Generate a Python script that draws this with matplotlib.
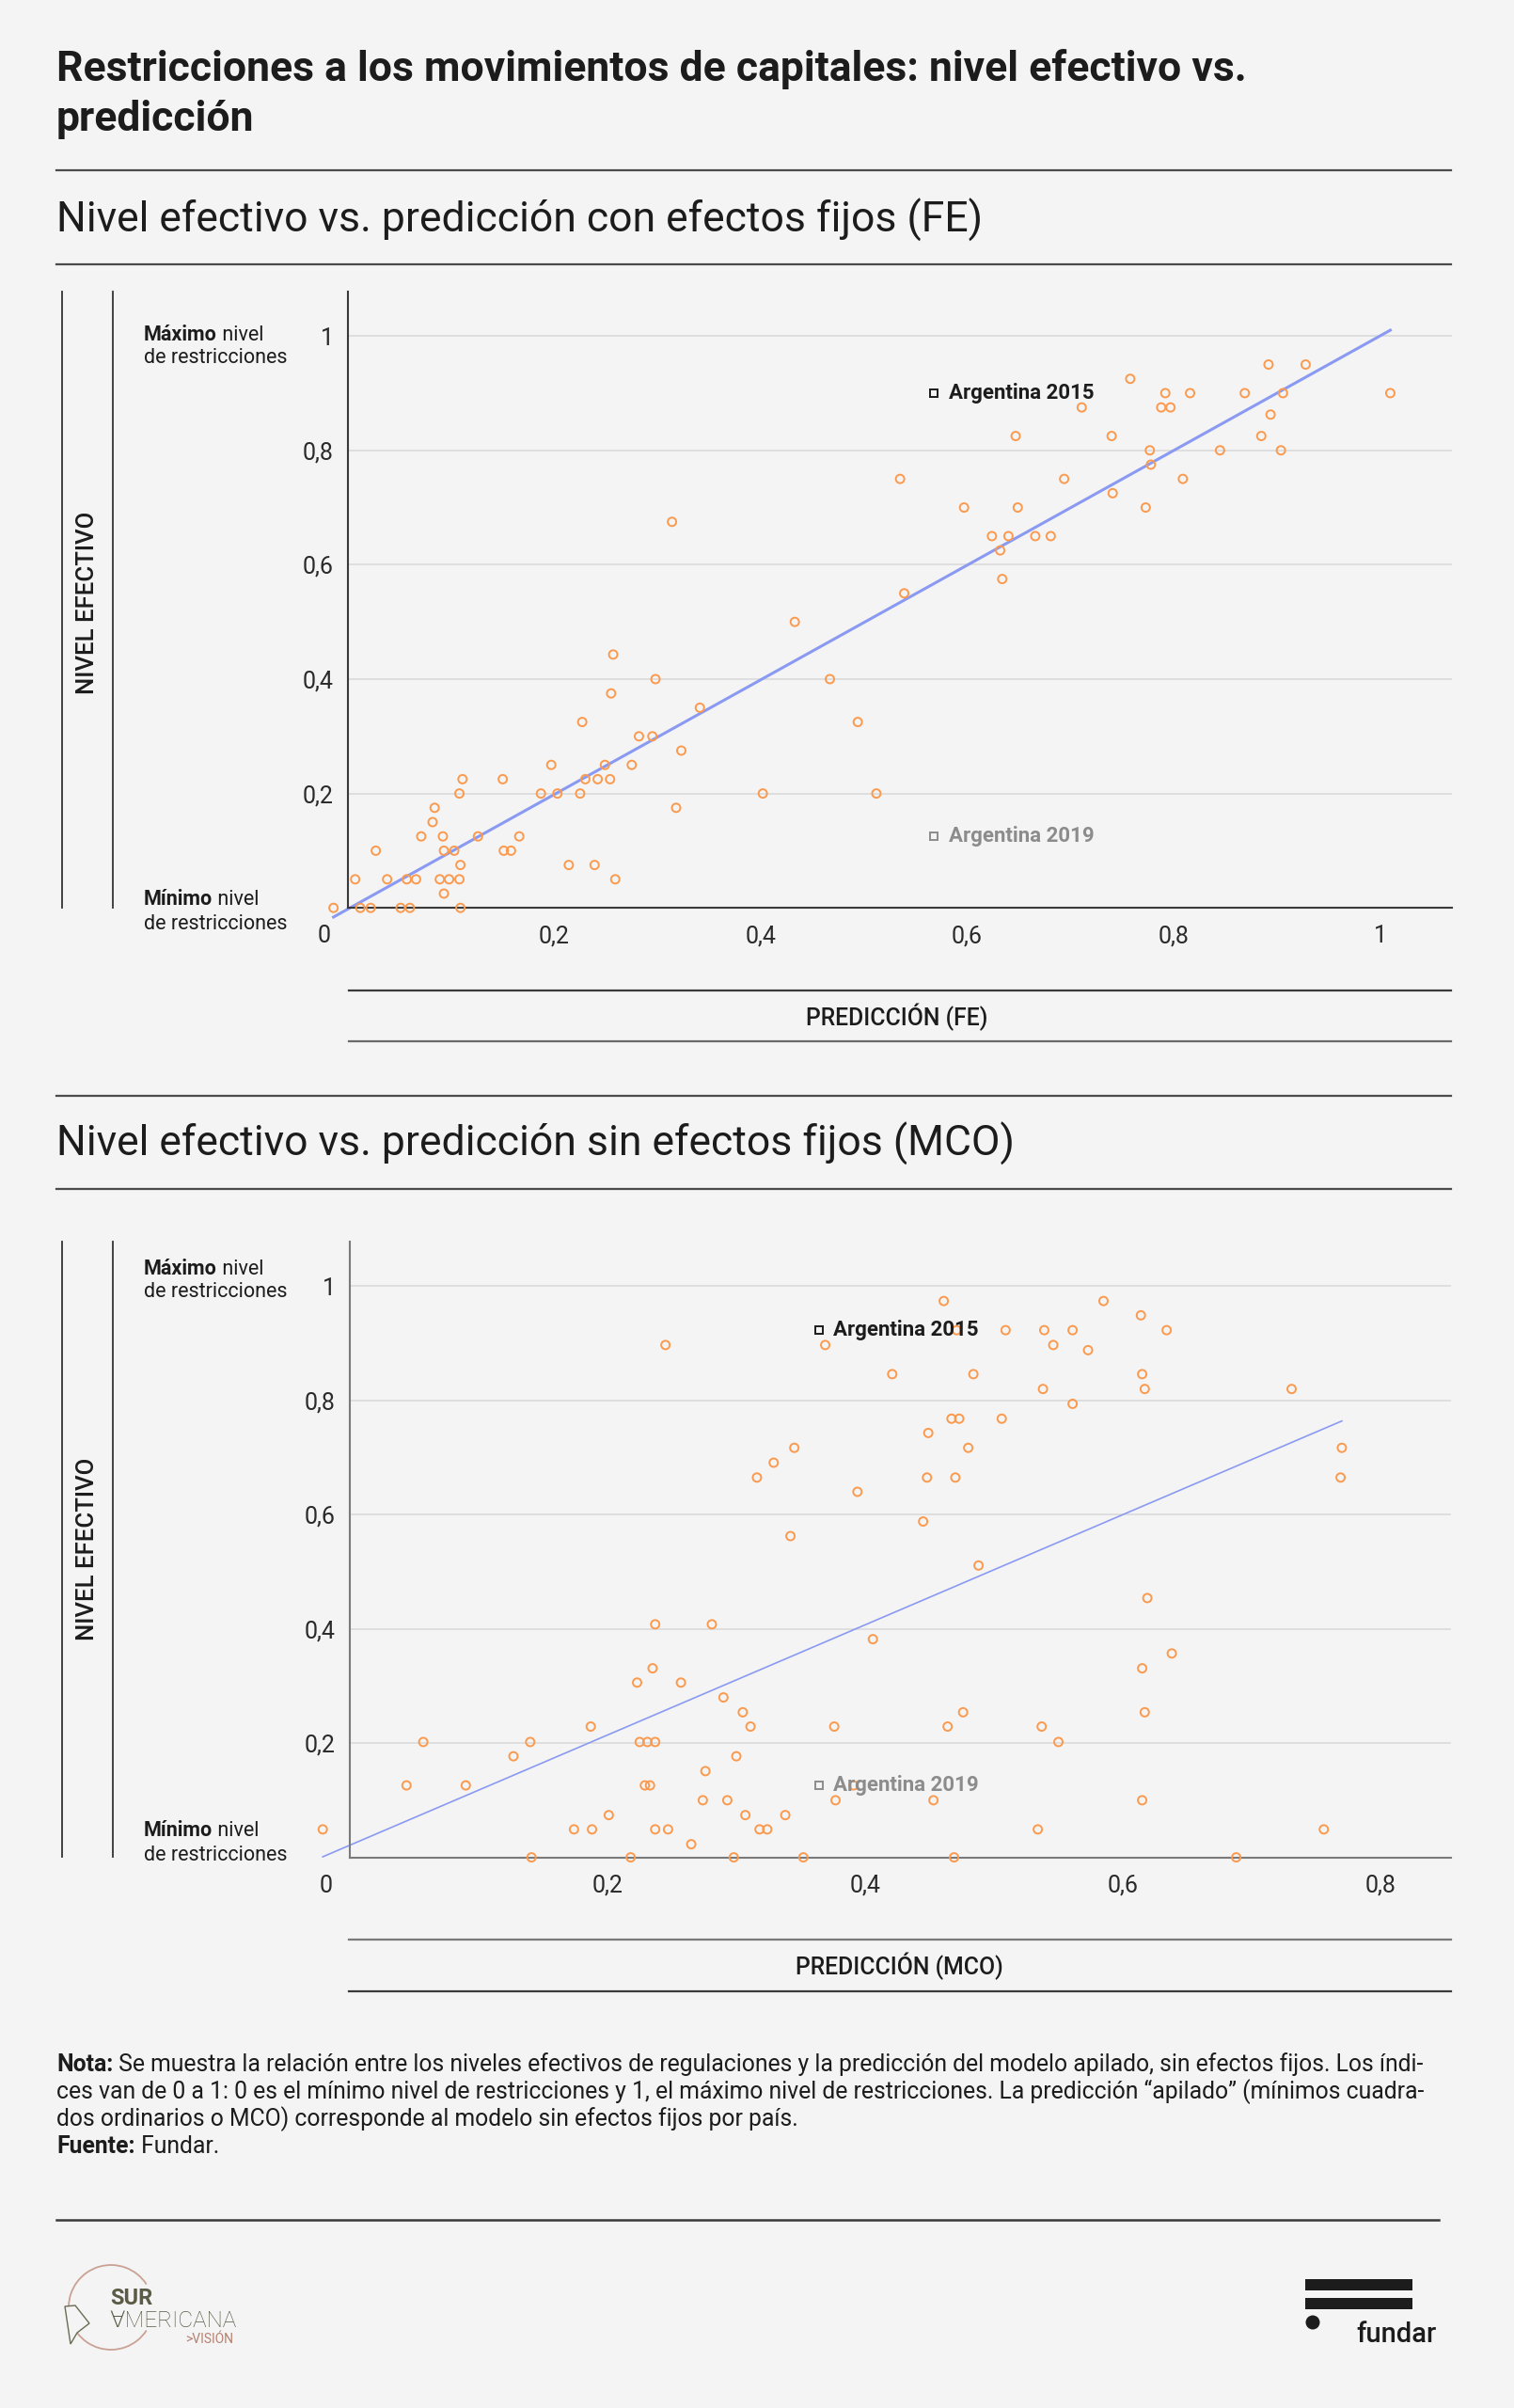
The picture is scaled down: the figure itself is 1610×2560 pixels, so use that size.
import numpy as np
import matplotlib
matplotlib.use('Agg')
from matplotlib import pyplot as plt
from matplotlib.lines import Line2D
from matplotlib.patches import Rectangle, Circle, Arc, Polygon

W, H = 1610, 2560

BG = '#f4f4f4'
DARK = '#1c1c1c'
ORANGE = '#fb9a4e'
BLUE = '#8a9af2'
GRID = '#d8d8d8'
GRAY = '#8c8c8c'

plt.rcParams['font.family'] = ['Roboto', 'DejaVu Sans']

# Panel 1: prediccion con efectos fijos (FE)
fe_pred = [-0.014, 0.007, 0.012, 0.022, 0.027, 0.038, 0.051, 0.060, 0.057, 0.066,
           0.071, 0.082, 0.084, 0.089, 0.092, 0.093, 0.093, 0.098, 0.103, 0.108,
           0.108, 0.109, 0.109, 0.111, 0.126, 0.150, 0.151, 0.158, 0.166, 0.187,
           0.197, 0.203, 0.214, 0.225, 0.227, 0.230, 0.239, 0.242, 0.249, 0.254,
           0.255, 0.257, 0.259, 0.275, 0.282, 0.295, 0.298, 0.314, 0.318, 0.323,
           0.341, 0.402, 0.433, 0.467, 0.494, 0.512, 0.535, 0.539, 0.597, 0.624,
           0.632, 0.634, 0.640, 0.647, 0.649, 0.666, 0.681, 0.694, 0.711, 0.740,
           0.741, 0.758, 0.773, 0.777, 0.778, 0.788, 0.792, 0.797, 0.809, 0.816,
           0.845, 0.869, 0.885, 0.892, 0.894, 0.904, 0.906, 0.928, 1.010]
fe_level = [0, 0.05, 0, 0, 0.1, 0.05, 0, 0, 0.05, 0.05,
            0.125, 0.15, 0.175, 0.05, 0.125, 0.1, 0.025, 0.05, 0.1, 0.2,
            0.05, 0.075, 0, 0.225, 0.125, 0.225, 0.1, 0.1, 0.125, 0.2,
            0.25, 0.2, 0.075, 0.2, 0.325, 0.225, 0.075, 0.225, 0.25, 0.225,
            0.375, 0.443, 0.05, 0.25, 0.3, 0.3, 0.4, 0.675, 0.175, 0.275,
            0.35, 0.2, 0.5, 0.4, 0.325, 0.2, 0.75, 0.55, 0.7, 0.65,
            0.625, 0.575, 0.65, 0.825, 0.7, 0.65, 0.65, 0.75, 0.875, 0.825,
            0.725, 0.925, 0.7, 0.8, 0.775, 0.875, 0.9, 0.875, 0.75, 0.9,
            0.8, 0.9, 0.825, 0.95, 0.8625, 0.8, 0.9, 0.95, 0.9]
fe_fit_x = [-0.014, 1.010]
fe_fit_y = [-0.016, 1.010]

# Panel 2: prediccion sin efectos fijos (MCO)
mco_pred = [-0.021, 0.044, 0.057, 0.090, 0.127, 0.140, 0.141, 0.174, 0.187, 0.188,
            0.201, 0.218, 0.223, 0.225, 0.231, 0.229, 0.233, 0.235, 0.237, 0.237,
            0.237, 0.245, 0.247, 0.257, 0.265, 0.274, 0.276, 0.281, 0.290, 0.293,
            0.298, 0.300, 0.305, 0.307, 0.311, 0.316, 0.318, 0.324, 0.329, 0.338,
            0.342, 0.345, 0.352, 0.369, 0.376, 0.377, 0.391, 0.394, 0.406, 0.421,
            0.445, 0.448, 0.449, 0.453, 0.461, 0.464, 0.467, 0.469, 0.470, 0.471,
            0.473, 0.476, 0.480, 0.484, 0.488, 0.506, 0.509, 0.534, 0.537, 0.538,
            0.539, 0.546, 0.550, 0.561, 0.561, 0.573, 0.585, 0.614, 0.615, 0.615,
            0.615, 0.617, 0.617, 0.619, 0.634, 0.638, 0.688, 0.731, 0.756, 0.769,
            0.770]
mco_level = [0.049, 0.126, 0.202, 0.126, 0.177, 0.202, 0, 0.049, 0.229, 0.049,
             0.074, 0, 0.306, 0.202, 0.202, 0.126, 0.126, 0.331, 0.408, 0.202,
             0.049, 0.897, 0.049, 0.306, 0.023, 0.1, 0.151, 0.408, 0.280, 0.1,
             0, 0.177, 0.254, 0.074, 0.229, 0.665, 0.049, 0.049, 0.691, 0.074,
             0.5625, 0.717, 0, 0.897, 0.229, 0.1, 0.126, 0.640, 0.382, 0.846,
             0.588, 0.665, 0.743, 0.1, 0.974, 0.229, 0.768, 0, 0.665, 0.923,
             0.768, 0.254, 0.717, 0.846, 0.511, 0.768, 0.923, 0.049, 0.229, 0.820,
             0.923, 0.897, 0.202, 0.794, 0.923, 0.888, 0.974, 0.949, 0.846, 0.1,
             0.331, 0.254, 0.820, 0.454, 0.923, 0.357, 0, 0.820, 0.049, 0.665,
             0.717]
mco_fit_x = [-0.021, 0.770]
mco_fit_y = [0.001, 0.764]

arg_labels = ['Argentina 2015', 'Argentina 2019']
arg_colors = [DARK, GRAY]
fe_arg_x = [0.568, 0.568]
fe_arg_y = [0.9, 0.125]
mco_arg_x = [0.364, 0.364]
mco_arg_y = [0.923, 0.126]

y_ticks = [0.2, 0.4, 0.6, 0.8, 1]
y_tick_labels = ['0,2', '0,4', '0,6', '0,8', '1']
fe_x_ticks = [0, 0.2, 0.4, 0.6, 0.8, 1]
fe_x_labels = ['', '0,2', '0,4', '0,6', '0,8', '1']
mco_x_ticks = [0, 0.2, 0.4, 0.6, 0.8]
mco_x_labels = ['', '0,2', '0,4', '0,6', '0,8']

fig = plt.figure(figsize=(W / 100, H / 100), dpi=100)
fig.patch.set_facecolor(BG)


def panel(rect, pred, level, fit_x, fit_y, arg_x, arg_y, xticks, xlabels, xmax, lw, spine_col):
    ax = fig.add_axes(rect)
    ax.set_facecolor(BG)
    ax.set_xlim(0, xmax)
    ax.set_ylim(0, 1.078)
    ax.set_yticks(y_ticks)
    ax.set_yticklabels(y_tick_labels)
    ax.set_xticks(xticks)
    ax.set_xticklabels(xlabels)
    ax.tick_params(length=0, labelsize=18, colors='#2a2a2a')
    ax.tick_params(axis='y', pad=11)
    ax.tick_params(axis='x', pad=13)
    ax.grid(axis='y', color=GRID, lw=1.1)
    ax.set_axisbelow(True)
    for s in ['top', 'right']:
        ax.spines[s].set_visible(False)
    for s in ['left', 'bottom']:
        ax.spines[s].set_color(spine_col)
        ax.spines[s].set_linewidth(1.5)
    ax.plot(fit_x, fit_y, color=BLUE, lw=lw, clip_on=False, zorder=2)
    ax.scatter(pred, level, s=42, facecolors='none', edgecolors=ORANGE,
               linewidths=1.4, clip_on=False, zorder=3)
    for lab, col, x, y in zip(arg_labels, arg_colors, arg_x, arg_y):
        ax.plot(x, y, marker='s', ms=5.5, mfc='none', mec=col, mew=1.4, zorder=4)
        ax.annotate(lab, (x, y), xytext=(11, 0), textcoords='offset points',
                    va='center', ha='left', fontsize=16, fontweight='bold', color=col, zorder=5)
    # "0" de origen, corrido a la izquierda
    ax.annotate('0', (0, 0), xytext=(-25, -30), textcoords='offset pixels',
                ha='center', va='center', fontsize=18, color='#2a2a2a', annotation_clip=False)
    return ax


panel([370 / W, 1 - 965.2 / H, 1174.3 / W, 655.5 / H], fe_pred, fe_level, fe_fit_x, fe_fit_y,
      fe_arg_x, fe_arg_y, fe_x_ticks, fe_x_labels, 1.07, 2.2, '#3a3a3a')
panel([372 / W, 1 - 1974.6 / H, 1171.4 / W, 654.6 / H], mco_pred, mco_level, mco_fit_x, mco_fit_y,
      mco_arg_x, mco_arg_y, mco_x_ticks, mco_x_labels, 0.855, 1.2, '#7a7a7a')

# capa de decoracion en pixeles
ov = fig.add_axes([0, 0, 1, 1])
ov.set_xlim(0, W)
ov.set_ylim(H, 0)
ov.axis('off')
renderer = fig.canvas.get_renderer()


def hline(y, x0, x1, col='#4a4a4a', lw=1.6):
    ov.add_line(Line2D([x0, x1], [y, y], color=col, lw=lw))


def vline(x, y0, y1, col='#333333', lw=1.3):
    ov.add_line(Line2D([x, x], [y0, y1], color=col, lw=lw))


def rich(x, y, parts, size, color=DARK):
    for txt, wt in parts:
        t = ov.text(x, y, txt, fontsize=size, fontweight=wt, color=color, va='baseline', ha='left')
        x += t.get_window_extent(renderer).width


ov.text(60, 86, 'Restricciones a los movimientos de capitales: nivel efectivo vs.',
        fontsize=32, fontweight='bold', color=DARK, va='baseline')
ov.text(60, 139, 'predicción', fontsize=32, fontweight='bold', color=DARK, va='baseline')
hline(181, 60, 1543)
ov.text(60, 247, 'Nivel efectivo vs. predicción con efectos fijos (FE)',
        fontsize=32, color=DARK, va='baseline')
hline(281, 60, 1543)

# panel 1 marco
vline(66, 310, 965)
vline(120, 310, 965)
ov.text(93, 641, 'NIVEL EFECTIVO', rotation=90, fontsize=18.5, fontweight='medium',
        color=DARK, ha='center', va='center')
rich(153, 362, [('Máximo', 'bold'), (' nivel', 'normal')], 15.5)
rich(153, 386, [('de restricciones', 'normal')], 15.5)
rich(153, 962, [('Mínimo', 'bold'), (' nivel', 'normal')], 15.5)
rich(153, 988, [('de restricciones', 'normal')], 15.5)
hline(1053, 371, 1543, col='#3a3a3a')
ov.text(954, 1081, 'PREDICCIÓN (FE)', fontsize=17.8, fontweight='medium', color=DARK,
        ha='center', va='center')
hline(1107, 371, 1543, col='#6a6a6a')
hline(1165, 60, 1543)

ov.text(60, 1229, 'Nivel efectivo vs. predicción sin efectos fijos (MCO)',
        fontsize=32, color=DARK, va='baseline')
hline(1264, 60, 1543)

# panel 2 marco
vline(66, 1320, 1974)
vline(120, 1320, 1974)
ov.text(93, 1647, 'NIVEL EFECTIVO', rotation=90, fontsize=18.5, fontweight='medium',
        color=DARK, ha='center', va='center')
rich(153, 1355, [('Máximo', 'bold'), (' nivel', 'normal')], 15.5)
rich(153, 1379, [('de restricciones', 'normal')], 15.5)
rich(153, 1952, [('Mínimo', 'bold'), (' nivel', 'normal')], 15.5)
rich(153, 1978, [('de restricciones', 'normal')], 15.5)
hline(2062, 371, 1543, col='#7a7a7a')
ov.text(956, 2090, 'PREDICCIÓN (MCO)', fontsize=17.8, fontweight='medium', color=DARK,
        ha='center', va='center')
hline(2117, 371, 1543, col='#3a3a3a')

# nota
rich(60, 2202, [('Nota:', 'bold'), (' Se muestra la relación entre los niveles efectivos de regulaciones '
                                    'y la predicción del modelo apilado, sin efectos fijos. Los índi-', 'normal')], 17.8)
rich(60, 2231, [('ces van de 0 a 1: 0 es el mínimo nivel de restricciones y 1, el máximo nivel de '
                 'restricciones. La predicción “apilado” (mínimos cuadra-', 'normal')], 17.8)
rich(60, 2260, [('dos ordinarios o MCO) corresponde al modelo sin efectos fijos por país.', 'normal')], 17.8)
rich(60, 2289, [('Fuente:', 'bold'), (' Fundar.', 'normal')], 17.8)
hline(2360, 60, 1530, col='#3a3a3a', lw=1.8)

# logo SUR AMERICANA
ov.add_patch(Arc((118, 2453), 90, 90, theta1=33, theta2=327, color='#c9a294', lw=1.3))
ov.add_patch(Polygon([(69, 2452), (80, 2451), (95, 2470), (82, 2480), (75, 2492)],
                     closed=True, fill=True, fc=BG, ec='#6b6b55', lw=1.0))
ov.text(117, 2450, 'SUR', fontsize=17, fontweight='bold', color='#5b5b46', va='baseline')
ov.text(116, 2474, '∀MERICANA', fontsize=17.5, fontweight='light', color='#5b5b46', va='baseline')
ov.text(197, 2491, '>VISIÓN', fontsize=10, color='#b5806f', va='baseline')

# logo fundar
ov.add_patch(Rectangle((1388, 2423), 114, 12, color='#1c1c1c', lw=0))
ov.add_patch(Rectangle((1388, 2443), 114, 12, color='#1c1c1c', lw=0))
ov.add_patch(Circle((1396, 2469), 7.5, color='#1c1c1c', lw=0))
ov.text(1442, 2490, 'fundar', fontsize=21, fontweight='medium', color='#1c1c1c', va='baseline')

fig.savefig('out.png', dpi=100, facecolor=BG)
